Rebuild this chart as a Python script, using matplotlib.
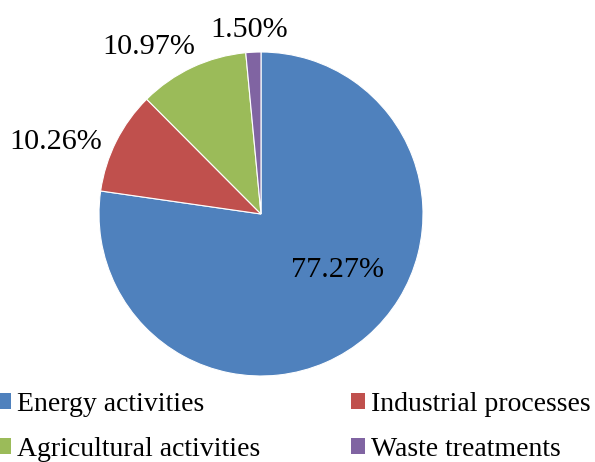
import matplotlib
matplotlib.use("Agg")
import matplotlib.pyplot as plt
from matplotlib.patches import Patch

categories = ["Energy activities", "Industrial processes", "Agricultural activities", "Waste treatments"]
values = [77.27, 10.26, 10.97, 1.50]
value_labels = ["77.27%", "10.26%", "10.97%", "1.50%"]
colors = ["#4F81BD", "#C0504D", "#9BBB59", "#8064A2"]
label_offsets = [(0.47, -0.346), (-1.265, 0.444), (-0.69, 1.03), (-0.074, 1.136)]

plt.rcParams['font.family'] = ['Liberation Serif', 'DejaVu Serif']

W, H = 595, 462
fig = plt.figure(figsize=(W / 100, H / 100), dpi=100)
cx, cy, r = 261, 214, 162
ax = fig.add_axes([(cx - r) / W, (H - cy - r) / H, 2 * r / W, 2 * r / H])
ax.pie(values, colors=colors, startangle=90, counterclock=False, radius=1,
       wedgeprops=dict(edgecolor="white", linewidth=0.8))
ax.set_xlim(-1, 1)
ax.set_ylim(-1, 1)
ax.set_aspect("equal")
ax.axis("off")

for lbl, (dx, dy) in zip(value_labels, label_offsets):
    ax.text(dx, dy, lbl, ha="center", va="center", fontsize=21.7, color="black")

handles = [Patch(facecolor=c, edgecolor="none") for c in colors]
order = [0, 2, 1, 3]
leg = fig.legend([handles[i] for i in order], [categories[i] for i in order],
                 ncol=2, loc="lower left", bbox_to_anchor=(-3 / W, 0 / H),
                 frameon=False, fontsize=20, handlelength=0.5, handleheight=0.5,
                 handletextpad=0.22, columnspacing=3.27, labelspacing=0.72,
                 borderpad=0.0, borderaxespad=0.0)
fig.savefig("out.png", dpi=100)
